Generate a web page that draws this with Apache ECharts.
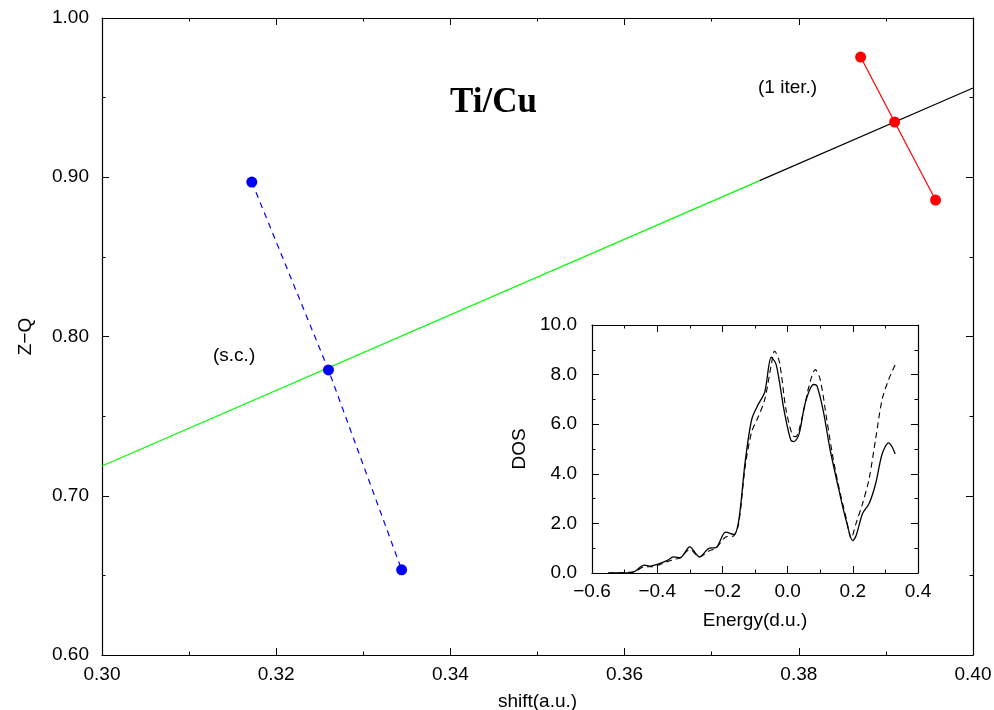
<!DOCTYPE html>
<html><head><meta charset="utf-8">
<script src="https://cdn.jsdelivr.net/npm/echarts@6/dist/echarts.min.js"></script>
<style>html,body{margin:0;padding:0;background:#fff}#c{width:994px;height:710px}</style>
</head><body><div id="c"></div>
<script>
// Main plot data
const fitGreen = [[0.30, 0.7187], [0.3755, 0.8979]];
const fitBlack = [[0.3755, 0.8979], [0.40, 0.956]];
const scPoints = [[0.3172, 0.897], [0.3260, 0.779], [0.3344, 0.6535]];
const iterPoints = [[0.3871, 0.9755], [0.3910, 0.9347], [0.3957, 0.8857]];
// Inset DOS data
const energy = [-0.55,-0.50,-0.47,-0.44,-0.42,-0.40,-0.37,-0.35,-0.33,-0.30,-0.27,-0.24,-0.22,-0.19,-0.165,-0.15,-0.13,-0.11,-0.09,-0.07,-0.05,-0.035,-0.01,0.01,0.02,0.035,0.055,0.08,0.09,0.11,0.13,0.16,0.18,0.20,0.21,0.23,0.25,0.27,0.29,0.31,0.32,0.33];
const dosSolid = [0,0,0.05,0.32,0.28,0.35,0.5,0.65,0.62,1.05,0.65,1.0,1.02,1.65,1.55,2.1,4.5,6.2,6.8,7.3,8.7,8.4,6.5,5.35,5.3,5.6,6.9,7.6,7.55,6.5,5.0,3.2,2.1,1.3,1.5,2.4,2.8,3.6,4.8,5.25,5.1,4.8];
const energyDash = [-0.55,-0.47,-0.44,-0.42,-0.40,-0.37,-0.35,-0.33,-0.30,-0.27,-0.24,-0.22,-0.19,-0.165,-0.15,-0.13,-0.11,-0.09,-0.07,-0.05,-0.04,-0.025,-0.005,0.015,0.025,0.045,0.065,0.085,0.10,0.12,0.14,0.16,0.18,0.195,0.21,0.23,0.25,0.27,0.29,0.31,0.33];
const dosDashed = [0,0.05,0.25,0.25,0.3,0.45,0.55,0.6,0.95,0.65,0.9,1.0,1.45,1.5,2.0,4.3,5.7,6.3,7.0,8.4,8.95,8.5,6.6,5.55,5.5,6.3,7.5,8.2,7.8,6.2,4.6,3.3,2.2,1.4,2.0,2.8,3.8,5.4,7.0,7.8,8.4];

const FONT = 'Liberation Sans, Arial, sans-serif';
const FS = 19;
const axisLine = {show: true, onZero: false, lineStyle: {color: '#000', width: 1.2}};
const tickIn = {show: true, inside: true, length: 7, lineStyle: {color: '#000'}};
const minorIn = {show: true, splitNumber: 2, length: 3.5, lineStyle: {color: '#000'}};
const nameStyle = {color: '#000', fontSize: FS, fontFamily: FONT};
const minus = s => s.replace('-', '\u2212');
const hidden = {show: false};

const chart = echarts.init(document.getElementById('c'), null, {renderer: 'canvas'});
chart.setOption({
  animation: false,
  backgroundColor: '#fff',
  grid: [
    {left: 102, right: 21, top: 18, bottom: 55, containLabel: false, outerBoundsMode: 'none'},
    {left: 592, width: 326, top: 325, height: 248, containLabel: false, outerBoundsMode: 'none'}
  ],
  xAxis: [
    {gridIndex: 0, type: 'value', min: 0.30, max: 0.40, interval: 0.02, position: 'bottom',
     axisLine, axisTick: tickIn, minorTick: minorIn, splitLine: hidden,
     axisLabel: {show: true, color: '#000', fontSize: FS, fontFamily: FONT, margin: 10, formatter: v => v.toFixed(2)},
     name: 'shift(a.u.)', nameLocation: 'middle', nameGap: 37, nameTextStyle: nameStyle},
    {gridIndex: 0, type: 'value', min: 0.30, max: 0.40, interval: 0.02, position: 'top',
     axisLine, axisTick: tickIn, minorTick: minorIn, splitLine: hidden, axisLabel: hidden},
    {gridIndex: 1, type: 'value', min: -0.6, max: 0.4, interval: 0.2, position: 'bottom',
     axisLine, axisTick: tickIn, minorTick: minorIn, splitLine: hidden,
     axisLabel: {show: true, color: '#000', fontSize: FS, fontFamily: FONT, margin: 9,
       formatter: v => minus(v.toFixed(1))},
     name: 'Energy(d.u.)', nameLocation: 'middle', nameGap: 38, nameTextStyle: nameStyle},
    {gridIndex: 1, type: 'value', min: -0.6, max: 0.4, interval: 0.2, position: 'top',
     axisLine, axisTick: tickIn, minorTick: minorIn, splitLine: hidden, axisLabel: hidden}
  ],
  yAxis: [
    {gridIndex: 0, type: 'value', min: 0.60, max: 1.00, interval: 0.10, position: 'left',
     axisLine, axisTick: tickIn, minorTick: minorIn, splitLine: hidden,
     axisLabel: {show: true, color: '#000', fontSize: FS, fontFamily: FONT, margin: 13, formatter: v => v.toFixed(2)},
     name: 'Z\u2212Q', nameLocation: 'middle', nameGap: 67, nameRotate: 90, nameTextStyle: nameStyle},
    {gridIndex: 0, type: 'value', min: 0.60, max: 1.00, interval: 0.10, position: 'right',
     axisLine, axisTick: tickIn, minorTick: minorIn, splitLine: hidden, axisLabel: hidden},
    {gridIndex: 1, type: 'value', min: 0, max: 10, interval: 2, position: 'left',
     axisLine, axisTick: tickIn, minorTick: minorIn, splitLine: hidden,
     axisLabel: {show: true, color: '#000', fontSize: FS, fontFamily: FONT, margin: 15,
       formatter: v => v.toFixed(1)},
     name: 'DOS', nameLocation: 'middle', nameGap: 63, nameRotate: 90, nameTextStyle: nameStyle},
    {gridIndex: 1, type: 'value', min: 0, max: 10, interval: 2, position: 'right',
     axisLine, axisTick: tickIn, minorTick: minorIn, splitLine: hidden, axisLabel: hidden}
  ],
  series: [
    {type: 'line', xAxisIndex: 0, yAxisIndex: 0, data: fitGreen, symbol: 'none',
     lineStyle: {color: '#00ff00', width: 1.2}},
    {type: 'line', xAxisIndex: 0, yAxisIndex: 0, data: fitBlack, symbol: 'none',
     lineStyle: {color: '#000', width: 1.2}},
    {type: 'line', xAxisIndex: 0, yAxisIndex: 0, data: scPoints, symbol: 'circle', symbolSize: 11,
     itemStyle: {color: '#0000ff'}, lineStyle: {color: '#0000ff', width: 1.2, type: [6, 5]}},
    {type: 'line', xAxisIndex: 0, yAxisIndex: 0, data: iterPoints, symbol: 'circle', symbolSize: 11,
     itemStyle: {color: '#ff0000'}, lineStyle: {color: '#ff0000', width: 1.2}},
    {type: 'line', xAxisIndex: 2, yAxisIndex: 2, data: energy.map((e, i) => [e, dosSolid[i]]),
     symbol: 'none', smooth: 0.3, lineStyle: {color: '#000', width: 1.3}},
    {type: 'line', xAxisIndex: 2, yAxisIndex: 2, data: energyDash.map((e, i) => [e, dosDashed[i]]),
     symbol: 'none', smooth: 0.3, lineStyle: {color: '#000', width: 1.1, type: [6, 4]}}
  ],
  graphic: [
    {type: 'text', x: 450, y: 103, style: {text: 'Ti/Cu', fill: '#000', verticalAlign: 'middle',
      font: 'bold 35px "Liberation Serif", "Times New Roman", serif'}},
    {type: 'text', x: 758, y: 88, style: {text: '(1 iter.)', fill: '#000', verticalAlign: 'middle',
      font: '19px "Liberation Sans", Arial, sans-serif'}},
    {type: 'text', x: 213, y: 356, style: {text: '(s.c.)', fill: '#000', verticalAlign: 'middle',
      font: '19px "Liberation Sans", Arial, sans-serif'}}
  ]
});
</script></body></html>
